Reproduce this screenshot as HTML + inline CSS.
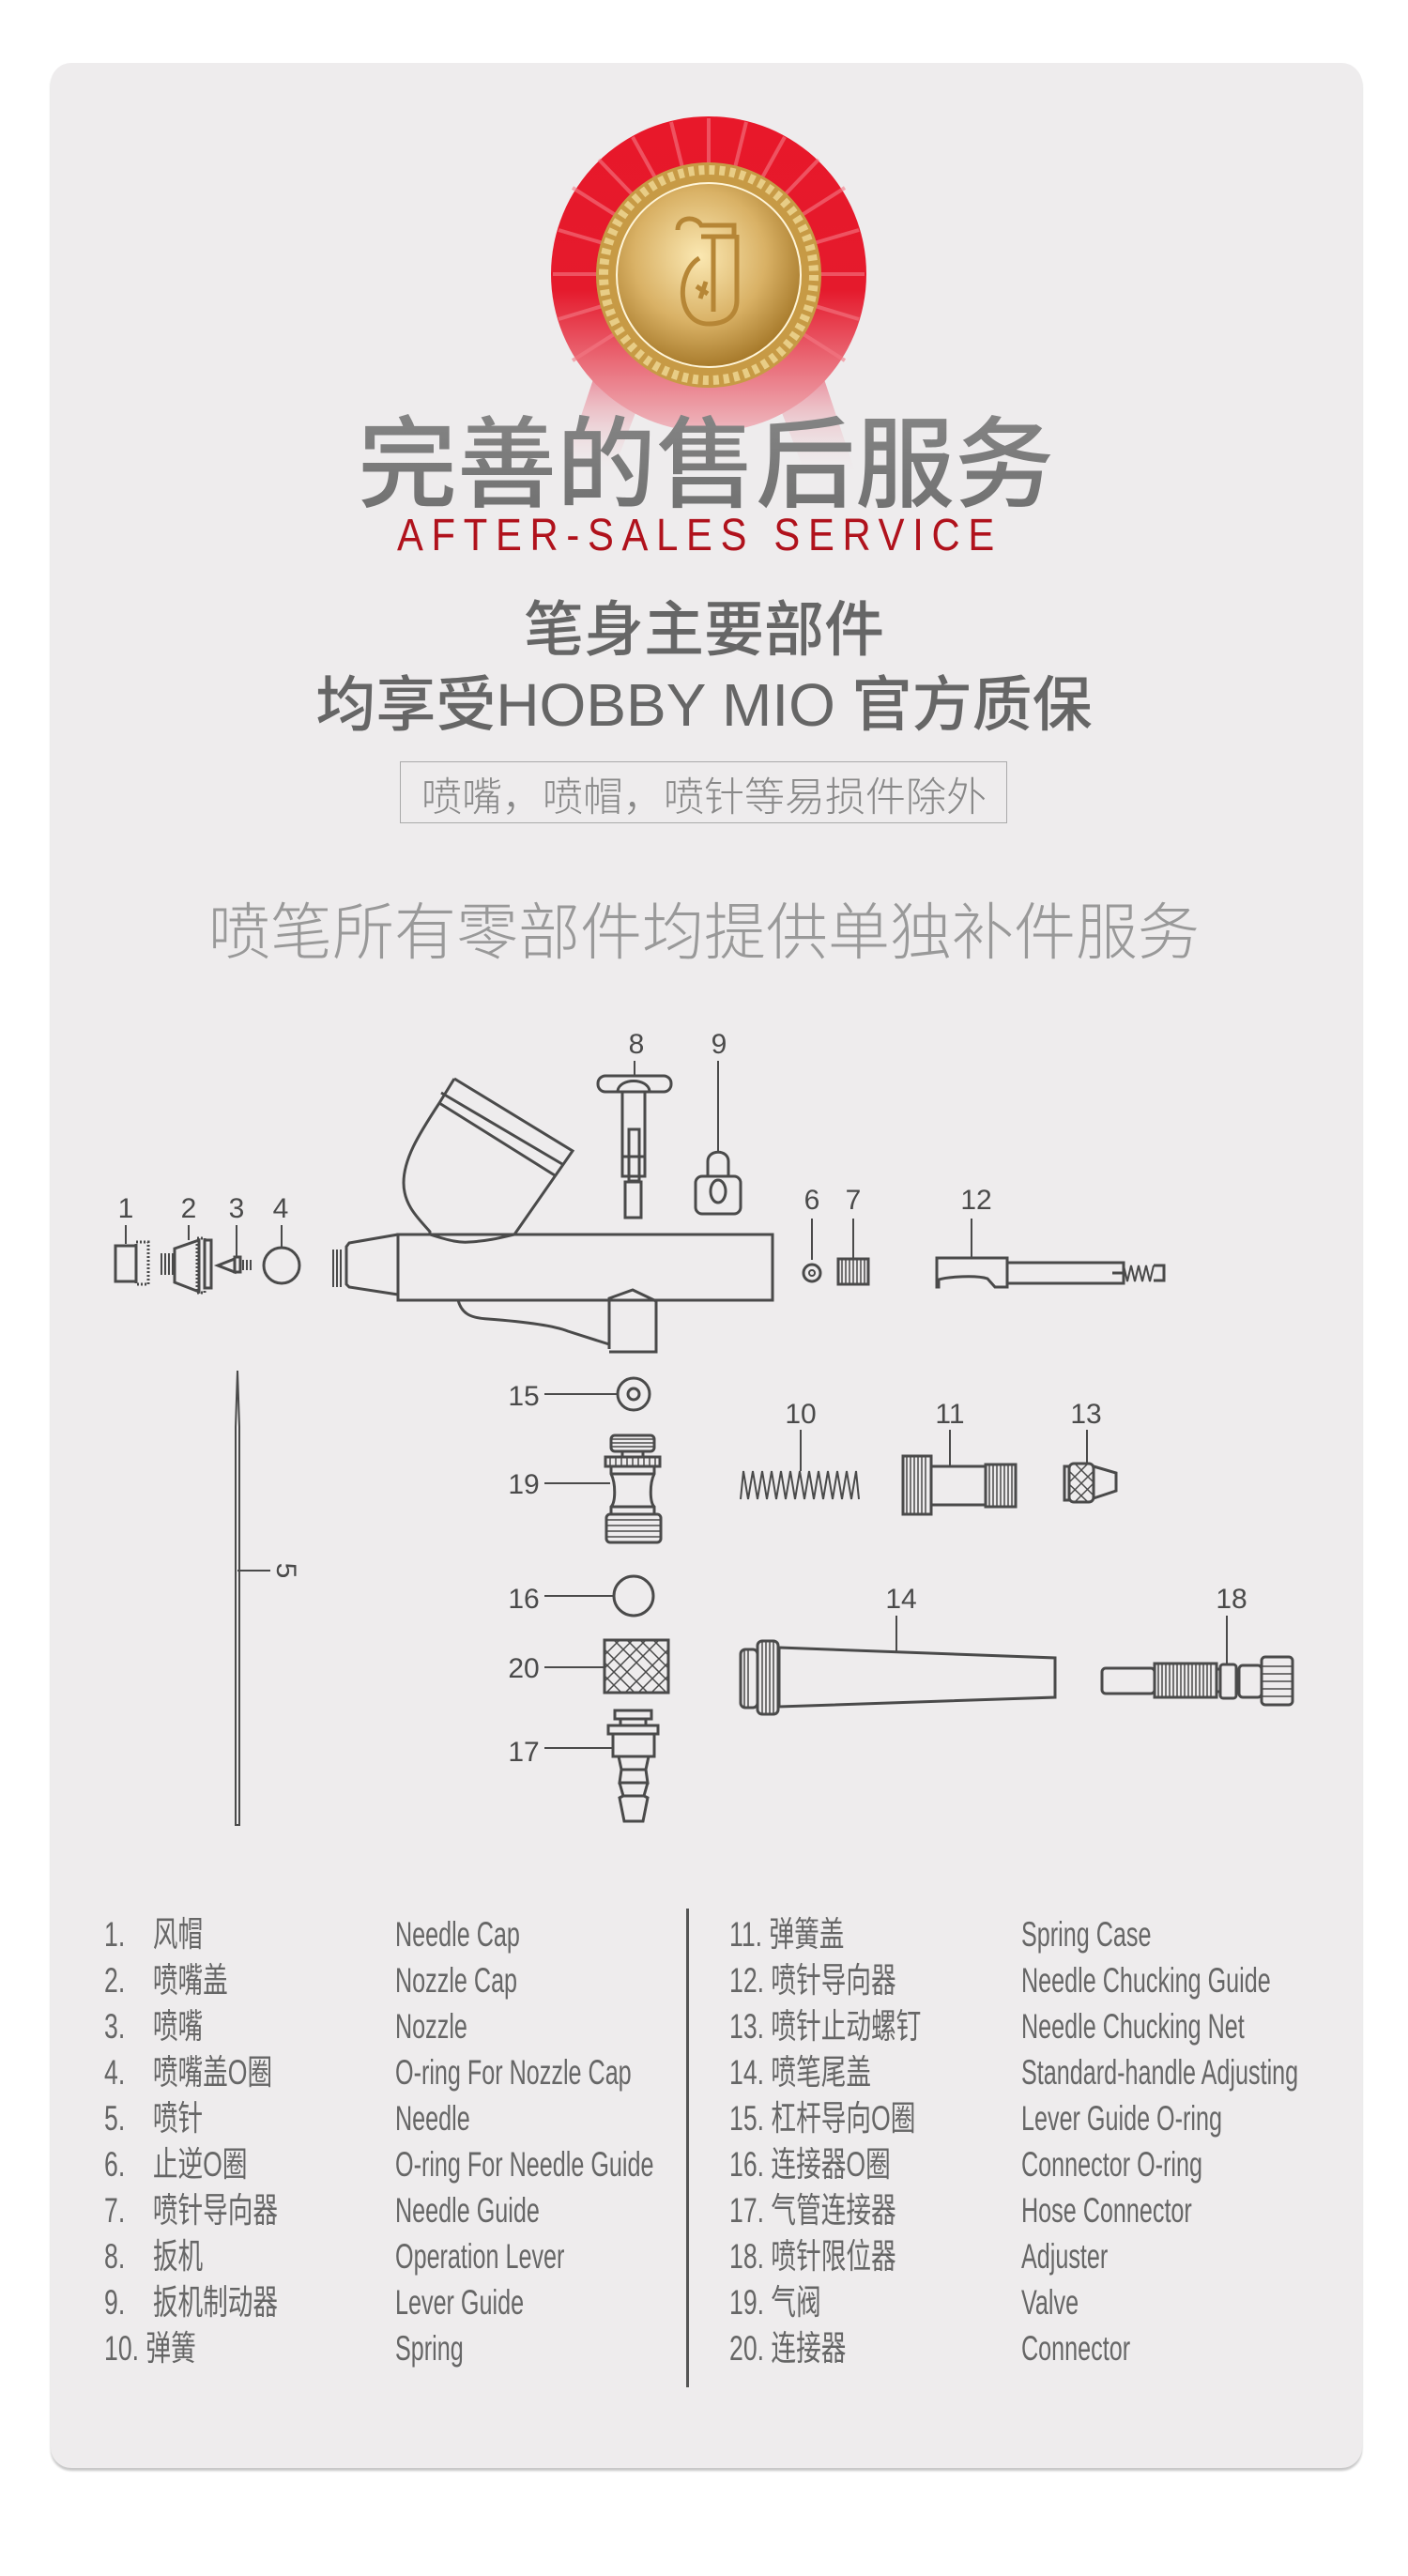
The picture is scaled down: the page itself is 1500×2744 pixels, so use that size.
<!DOCTYPE html>
<html><head><meta charset="utf-8"><style>
html,body{margin:0;padding:0;background:#fff;}
body{width:1500px;height:2744px;position:relative;overflow:hidden;font-family:"Liberation Sans","Noto Sans CJK SC",sans-serif;}
.card{position:absolute;left:54px;top:67px;width:1397px;height:2562px;background:#eeeced;border-radius:22px;box-shadow:0 3px 2px #c8c8c8;}
.t{position:absolute;white-space:nowrap;}
.c{left:0;width:1500px;text-align:center;}
.row{position:absolute;font-size:37px;color:#666;white-space:nowrap;transform:scaleX(0.72);transform-origin:0 0;line-height:40px;}
.en{transform:scaleX(0.68);}
</style></head><body>
<div class="card"></div>
<svg style="position:absolute;left:0;top:0" width="1500" height="560">
<defs>
<radialGradient id="gold" cx="45%" cy="40%" r="60%"><stop offset="0" stop-color="#fbe8b2"/><stop offset="0.6" stop-color="#d9b165"/><stop offset="1" stop-color="#a87b2c"/></radialGradient>
<linearGradient id="fade" x1="0" y1="0" x2="0" y2="1"><stop offset="0" stop-color="#e8182a"/><stop offset="0.55" stop-color="#e51a2c"/><stop offset="1" stop-color="#eeb9c0"/></linearGradient>
<linearGradient id="tail" x1="0" y1="0" x2="0" y2="1"><stop offset="0" stop-color="#e8677a"/><stop offset="1" stop-color="#eeeced" stop-opacity="0"/></linearGradient>
<linearGradient id="tg" x1="0" y1="0" x2="0" y2="1"><stop offset="0" stop-color="#8a8a8a"/><stop offset="1" stop-color="#6e6e6e"/></linearGradient>
</defs>
<polygon points="640,380 700,380 650,510 600,500" fill="url(#tail)"/>
<polygon points="810,380 870,380 910,500 860,510" fill="url(#tail)"/>
<circle cx="755" cy="292" r="168" fill="url(#fade)"/>
<g stroke="#f47a85" stroke-width="4" opacity="0.6">
<line x1="755" y1="292" x2="755" y2="126"/><line x1="755" y1="292" x2="836" y2="146"/><line x1="755" y1="292" x2="900" y2="200"/><line x1="755" y1="292" x2="921" y2="292"/><line x1="755" y1="292" x2="900" y2="384"/><line x1="755" y1="292" x2="674" y2="146"/><line x1="755" y1="292" x2="610" y2="200"/><line x1="755" y1="292" x2="589" y2="292"/><line x1="755" y1="292" x2="610" y2="384"/><line x1="755" y1="292" x2="795" y2="130"/><line x1="755" y1="292" x2="715" y2="130"/><line x1="755" y1="292" x2="872" y2="170"/><line x1="755" y1="292" x2="638" y2="170"/><line x1="755" y1="292" x2="915" y2="245"/><line x1="755" y1="292" x2="595" y2="245"/><line x1="755" y1="292" x2="915" y2="340"/><line x1="755" y1="292" x2="595" y2="340"/>
</g>
<circle cx="755" cy="293" r="120" fill="#c79a45"/>
<circle cx="755" cy="293" r="112" fill="none" stroke="#e8cd86" stroke-width="10" stroke-dasharray="6 5"/>
<circle cx="755" cy="293" r="98" fill="url(#gold)" stroke="#fff5d8" stroke-width="2"/>
<path d="M722 245 c0 -15 20 -15 25 -5 h35 v12 h-35 M760 252 v80 M745 275 c-25 15 -25 70 10 70 c25 0 30 -15 30 -25 v-70 M742 305 l12 8 M752 300 l-6 18" fill="none" stroke="#b68636" stroke-width="5"/>
<text x="752" y="532" text-anchor="middle" font-size="106" fill="url(#tg)" font-family="Noto Sans CJK SC,sans-serif" font-weight="500">完善的售后服务</text>
</svg>
<div class="t" style="left:423px;top:543px;font-size:48px;color:#b0121c;letter-spacing:10px;transform:scaleX(0.87);transform-origin:0 0;">AFTER-SALES SERVICE</div>
<div class="t c" style="top:620px;font-size:64px;color:#666;font-weight:500;">笔身主要部件</div>
<div class="t c" style="top:700px;font-size:64px;color:#666;font-weight:500;">均享受HOBBY MIO 官方质保</div>
<div class="t" style="left:426px;top:811px;width:645px;height:64px;border:1.5px solid #aaa;"></div>
<div class="t c" style="top:815px;font-size:43px;color:#888;font-weight:300;">喷嘴，喷帽，喷针等易损件除外</div>
<div class="t c" style="top:940px;font-size:66px;color:#999;font-weight:300;">喷笔所有零部件均提供单独补件服务</div>

<svg style="position:absolute;left:0;top:1080px" width="1500" height="900" viewBox="0 1080 1500 900" fill="none" stroke="#4a4a4a" stroke-width="3">
<g font-family="Liberation Sans,sans-serif" font-size="30" fill="#4a4a4a" stroke="none" text-anchor="middle">
<text x="134" y="1297">1</text><text x="201" y="1297">2</text><text x="252" y="1297">3</text><text x="299" y="1297">4</text>
<text x="678" y="1122">8</text><text x="766" y="1122">9</text>
<text x="865" y="1288">6</text><text x="909" y="1288">7</text><text x="1040" y="1288">12</text>
<text x="558" y="1497">15</text><text x="558" y="1591">19</text><text x="853" y="1516">10</text><text x="1012" y="1516">11</text><text x="1157" y="1516">13</text>
<text x="558" y="1713">16</text><text x="558" y="1787">20</text><text x="558" y="1876">17</text><text x="960" y="1713">14</text><text x="1312" y="1713">18</text>
<text x="0" y="0" transform="translate(295,1673) rotate(90)">5</text>
</g>
<path d="M134 1305v20M201 1305v16M252 1305v34M300 1305v24M676 1130v16M765 1130v97M865 1298v44M909 1298v42M1035 1298v42M1012 1523v38M853 1523v44M1158 1523v36M955 1721v38M1307 1721v51M580 1485h78M580 1580h70M580 1700h74M580 1776h64M580 1862h73M253 1673h35" stroke-width="2"/>
<rect x="123" y="1327" width="22" height="38"/><rect x="145" y="1323" width="13" height="45" stroke-dasharray="2 2"/>
<path d="M172 1335v23M176 1335v23M180 1335v23M184 1335v23" stroke-width="2"/>
<path d="M186 1330 L212 1321 V1376 L186 1366Z"/><rect x="210" y="1319" width="8" height="58" stroke-dasharray="2 2"/><rect x="218" y="1321" width="7" height="51"/>
<path d="M232 1348 L250 1341 V1355Z"/><rect x="250" y="1339" width="6" height="16"/><path d="M259 1342v11M263 1342v11M267 1342v11" stroke-width="2"/>
<circle cx="300" cy="1348" r="19"/>
<path d="M355 1331v40M359 1331v40M363 1331v40" stroke-width="2"/>
<path d="M424 1315 L372 1324 L369 1328 V1368 L372 1371 L424 1379"/>
<rect x="424" y="1315" width="399" height="70"/>
<path d="M484 1149 L610 1226 L548 1315 M484 1149 L468 1175 C445 1210 430 1235 430 1260 C430 1285 448 1300 458 1312 V1315"/>
<path d="M470 1164 L599 1240 M468 1175 L591 1252" />
<path d="M458 1315 C480 1322 490 1324 500 1323 C520 1322 535 1318 548 1315" />
<path d="M488 1385 C492 1400 502 1404 520 1405 C560 1408 590 1412 605 1418 L649 1432"/>
<path d="M649 1437 V1383 L674 1374 L699 1386 V1440 H649"/>
<rect x="637" y="1146" width="78" height="17" rx="8"/><path d="M658 1162 C660 1148 690 1148 692 1162"/>
<path d="M663 1163 V1253 H687 V1163"/><rect x="670" y="1203" width="11" height="55"/><rect x="666" y="1259" width="17" height="38"/><path d="M663 1232h24"/>
<path d="M754 1253 V1237 C754 1224 776 1224 776 1237 V1253"/><rect x="741" y="1253" width="48" height="40" rx="7"/><ellipse cx="765" cy="1269" rx="8" ry="12"/>
<circle cx="865" cy="1356" r="9"/><circle cx="865" cy="1356" r="3" stroke-width="2"/>
<rect x="893" y="1341" width="32" height="27"/><path d="M897 1341v27M901 1341v27M905 1341v27M909 1341v27M913 1341v27M917 1341v27M921 1341v27" stroke-width="1.5"/>
<path d="M998 1340 H1073 V1371 H1060 L1052 1362 C1040 1358 1010 1360 1000 1363 V1371 H998 Z"/><path d="M998 1340V1360"/>
<rect x="1073" y="1345" width="124" height="22"/><path d="M1185 1356h12"/>
<path d="M1197 1348 L1201 1365 L1205 1348 L1209 1365 L1213 1348 L1217 1365 L1221 1348 L1225 1365 L1229 1348" stroke-width="2"/><path d="M1229 1348 H1240 V1364 H1229"/>
<path d="M253 1460 L255 1520 V1944 H251 V1520 Z" stroke-width="2"/>
<circle cx="675" cy="1485" r="17"/><circle cx="675" cy="1485" r="6"/>
<rect x="651" y="1529" width="46" height="17" rx="4"/><path d="M652 1533h44M652 1537h44M652 1541h44" stroke-width="1.5"/>
<path d="M663 1546 v6 M685 1546 v6"/>
<rect x="645" y="1552" width="58" height="10"/><path d="M650 1552v10M656 1552v10M662 1552v10M668 1552v10M674 1552v10M680 1552v10M686 1552v10M692 1552v10M698 1552v10" stroke-width="1.5"/>
<path d="M651 1562 V1570 C656 1580 656 1600 651 1605 V1613 M697 1562 V1570 C692 1580 692 1600 697 1605 V1613 M651 1570h46M651 1605h46"/>
<rect x="646" y="1613" width="58" height="30" rx="4"/><path d="M646 1619h58M646 1625h58M646 1631h58M646 1637h58" stroke-width="1.5"/>
<path d="M789 1597 L792 1567 L797 1597 L802 1567 L807 1597 L812 1567 L817 1597 L822 1567 L827 1597 L832 1567 L837 1597 L842 1567 L847 1597 L852 1567 L857 1597 L862 1567 L867 1597 L872 1567 L877 1597 L882 1567 L887 1597 L892 1567 L897 1597 L902 1567 L907 1597 L912 1567 L915 1597" stroke-width="2"/>
<rect x="962" y="1551" width="30" height="62"/><path d="M966 1551v62M970 1551v62M974 1551v62M978 1551v62M982 1551v62M986 1551v62" stroke-width="1.5"/>
<rect x="992" y="1562" width="58" height="41"/><rect x="1050" y="1560" width="32" height="45"/><path d="M1054 1560v45M1058 1560v45M1062 1560v45M1066 1560v45M1070 1560v45M1074 1560v45M1078 1560v45" stroke-width="1.5"/>
<rect x="1134" y="1562" width="5" height="36"/><rect x="1139" y="1559" width="26" height="41" rx="5"/><path d="M1139 1567l26 26M1139 1581l20 19M1145 1559l20 20M1139 1593l26 -26M1139 1579l20 -20M1145 1600l20 -20" stroke-width="1.5"/>
<path d="M1165 1562 L1189 1569 V1588 L1165 1596"/>
<circle cx="675" cy="1700" r="21"/>
<rect x="644" y="1747" width="68" height="56"/>
<g stroke-width="1.5"><path d="M644 1757l46 46M644 1771l32 32M644 1785l18 18M654 1747l56 56M668 1747l44 44M682 1747l30 30M696 1747l16 16M712 1757l-46 46M712 1771l-32 32M712 1785l-18 18M702 1747l-56 56M688 1747l-44 44M674 1747l-30 30M660 1747l-16 16"/></g>
<rect x="655" y="1822" width="39" height="9"/><rect x="648" y="1838" width="53" height="9"/><path d="M661 1831v7M688 1831v7"/>
<rect x="653" y="1847" width="44" height="24"/>
<path d="M659 1871 L662 1885 H688 L691 1871 M662 1885 L660 1899 H690 L688 1885 M660 1899 L664 1913 H686 L690 1899 M664 1913 L660 1915 L665 1940 H685 L690 1915 L686 1913"/>
<rect x="789" y="1757" width="18" height="62" rx="5"/><rect x="807" y="1748" width="22" height="78" rx="5"/><path d="M793 1757v62M797 1757v62M812 1748v78M816 1748v78M820 1748v78M824 1748v78" stroke-width="1.5"/>
<path d="M830 1755 L1124 1766 V1808 L830 1818 Z"/>
<rect x="1174" y="1777" width="56" height="27" rx="4"/><rect x="1230" y="1772" width="66" height="36"/><path d="M1234 1772v36M1238 1772v36M1242 1772v36M1246 1772v36M1250 1772v36M1254 1772v36M1258 1772v36M1262 1772v36M1266 1772v36M1270 1772v36M1274 1772v36M1278 1772v36M1282 1772v36M1286 1772v36M1290 1772v36" stroke-width="1.5"/>
<path d="M1296 1778h4v24h-4"/><rect x="1300" y="1773" width="17" height="36" rx="3"/><rect x="1320" y="1774" width="24" height="34" rx="4"/>
<rect x="1344" y="1765" width="33" height="51" rx="4"/><path d="M1344 1775h33M1344 1783h33M1344 1791h33M1344 1799h33M1344 1807h33" stroke-width="1.5"/>
</svg>

<div style="position:absolute;left:731px;top:2033px;width:3px;height:510px;background:#555;"></div>
<div class="row" style="left:111px;top:2041px">1.&nbsp;&nbsp;&nbsp;&nbsp;风帽</div>
<div class="row" style="left:111px;top:2090px">2.&nbsp;&nbsp;&nbsp;&nbsp;喷嘴盖</div>
<div class="row" style="left:111px;top:2139px">3.&nbsp;&nbsp;&nbsp;&nbsp;喷嘴</div>
<div class="row" style="left:111px;top:2188px">4.&nbsp;&nbsp;&nbsp;&nbsp;喷嘴盖O圈</div>
<div class="row" style="left:111px;top:2237px">5.&nbsp;&nbsp;&nbsp;&nbsp;喷针</div>
<div class="row" style="left:111px;top:2286px">6.&nbsp;&nbsp;&nbsp;&nbsp;止逆O圈</div>
<div class="row" style="left:111px;top:2335px">7.&nbsp;&nbsp;&nbsp;&nbsp;喷针导向器</div>
<div class="row" style="left:111px;top:2384px">8.&nbsp;&nbsp;&nbsp;&nbsp;扳机</div>
<div class="row" style="left:111px;top:2433px">9.&nbsp;&nbsp;&nbsp;&nbsp;扳机制动器</div>
<div class="row" style="left:111px;top:2482px">10.&nbsp;弹簧</div>
<div class="row en" style="left:421px;top:2041px">Needle Cap</div>
<div class="row en" style="left:421px;top:2090px">Nozzle Cap</div>
<div class="row en" style="left:421px;top:2139px">Nozzle</div>
<div class="row en" style="left:421px;top:2188px">O-ring For Nozzle Cap</div>
<div class="row en" style="left:421px;top:2237px">Needle</div>
<div class="row en" style="left:421px;top:2286px">O-ring For Needle Guide</div>
<div class="row en" style="left:421px;top:2335px">Needle Guide</div>
<div class="row en" style="left:421px;top:2384px">Operation Lever</div>
<div class="row en" style="left:421px;top:2433px">Lever Guide</div>
<div class="row en" style="left:421px;top:2482px">Spring</div>
<div class="row" style="left:777px;top:2041px">11. 弹簧盖</div>
<div class="row" style="left:777px;top:2090px">12. 喷针导向器</div>
<div class="row" style="left:777px;top:2139px">13. 喷针止动螺钉</div>
<div class="row" style="left:777px;top:2188px">14. 喷笔尾盖</div>
<div class="row" style="left:777px;top:2237px">15. 杠杆导向O圈</div>
<div class="row" style="left:777px;top:2286px">16. 连接器O圈</div>
<div class="row" style="left:777px;top:2335px">17. 气管连接器</div>
<div class="row" style="left:777px;top:2384px">18. 喷针限位器</div>
<div class="row" style="left:777px;top:2433px">19. 气阀</div>
<div class="row" style="left:777px;top:2482px">20. 连接器</div>
<div class="row en" style="left:1088px;top:2041px">Spring Case</div>
<div class="row en" style="left:1088px;top:2090px">Needle Chucking Guide</div>
<div class="row en" style="left:1088px;top:2139px">Needle Chucking Net</div>
<div class="row en" style="left:1088px;top:2188px">Standard-handle Adjusting</div>
<div class="row en" style="left:1088px;top:2237px">Lever Guide O-ring</div>
<div class="row en" style="left:1088px;top:2286px">Connector O-ring</div>
<div class="row en" style="left:1088px;top:2335px">Hose Connector</div>
<div class="row en" style="left:1088px;top:2384px">Adjuster</div>
<div class="row en" style="left:1088px;top:2433px">Valve</div>
<div class="row en" style="left:1088px;top:2482px">Connector</div>
</body></html>
